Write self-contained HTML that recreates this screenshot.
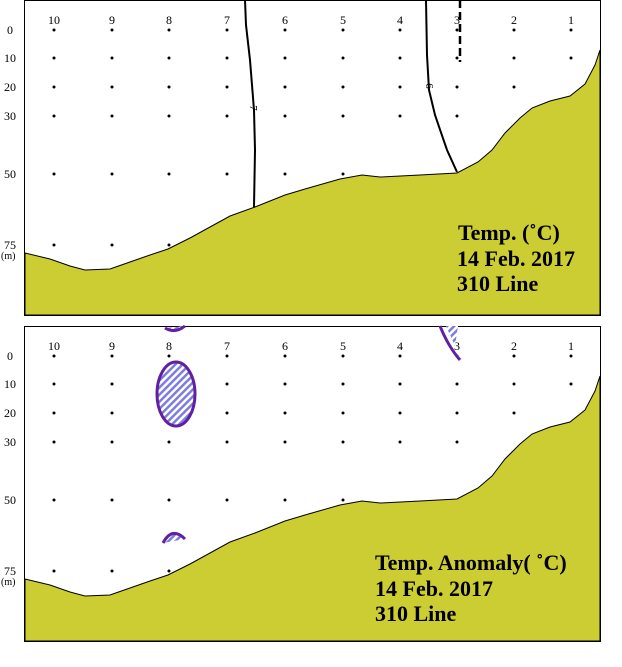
<!DOCTYPE html>
<html><head><meta charset="utf-8"><style>
body{margin:0;background:#fff;width:622px;height:662px;overflow:hidden}
svg text{font-family:"Liberation Serif",serif}
</style></head><body>
<svg width="622" height="662" viewBox="0 0 622 662" xmlns="http://www.w3.org/2000/svg">
<defs>
<pattern id="h" width="5" height="5" patternUnits="userSpaceOnUse" patternTransform="rotate(45)">
<rect width="5" height="5" fill="#fff"/><rect width="2.5" height="5" fill="#7d7de0"/></pattern>
<g id="panel">
<rect x="24.5" y="0.5" width="576" height="315" fill="#fff" stroke="#000"/>
<g font-size="12" text-anchor="middle">
<text x="54" y="24">10</text><text x="112" y="24">9</text><text x="169" y="24">8</text><text x="227" y="24">7</text><text x="285" y="24">6</text><text x="343" y="24">5</text><text x="400" y="24">4</text><text x="457" y="24">3</text><text x="514" y="24">2</text><text x="571" y="24">1</text>
<text x="10" y="34">0</text><text x="10" y="62">10</text><text x="10" y="91">20</text><text x="10" y="120">30</text><text x="10" y="178">50</text><text x="10" y="249">75</text>
</g>
<text x="1" y="259" font-size="10">(m)</text>
<g fill="#000">
<circle cx="54" cy="30" r="1.5"/><circle cx="112" cy="30" r="1.5"/><circle cx="169" cy="30" r="1.5"/><circle cx="227" cy="30" r="1.5"/><circle cx="285" cy="30" r="1.5"/><circle cx="343" cy="30" r="1.5"/><circle cx="400" cy="30" r="1.5"/><circle cx="457" cy="30" r="1.5"/><circle cx="514" cy="30" r="1.5"/><circle cx="571" cy="30" r="1.5"/>
<circle cx="54" cy="58" r="1.5"/><circle cx="112" cy="58" r="1.5"/><circle cx="169" cy="58" r="1.5"/><circle cx="227" cy="58" r="1.5"/><circle cx="285" cy="58" r="1.5"/><circle cx="343" cy="58" r="1.5"/><circle cx="400" cy="58" r="1.5"/><circle cx="457" cy="58" r="1.5"/><circle cx="514" cy="58" r="1.5"/><circle cx="571" cy="58" r="1.5"/>
<circle cx="54" cy="87" r="1.5"/><circle cx="112" cy="87" r="1.5"/><circle cx="169" cy="87" r="1.5"/><circle cx="227" cy="87" r="1.5"/><circle cx="285" cy="87" r="1.5"/><circle cx="343" cy="87" r="1.5"/><circle cx="400" cy="87" r="1.5"/><circle cx="457" cy="87" r="1.5"/><circle cx="514" cy="87" r="1.5"/>
<circle cx="54" cy="116" r="1.5"/><circle cx="112" cy="116" r="1.5"/><circle cx="169" cy="116" r="1.5"/><circle cx="227" cy="116" r="1.5"/><circle cx="285" cy="116" r="1.5"/><circle cx="343" cy="116" r="1.5"/><circle cx="400" cy="116" r="1.5"/><circle cx="457" cy="116" r="1.5"/>
<circle cx="54" cy="174" r="1.5"/><circle cx="112" cy="174" r="1.5"/><circle cx="169" cy="174" r="1.5"/><circle cx="227" cy="174" r="1.5"/><circle cx="285" cy="174" r="1.5"/><circle cx="343" cy="174" r="1.5"/>
<circle cx="54" cy="245" r="1.5"/><circle cx="112" cy="245" r="1.5"/><circle cx="169" cy="245" r="1.5"/>
</g>
<path d="M25,253 L50,259 L70,266 L85,270 L110,269 L130,262 L150,255 L168,249 L190,238 L230,216 L255,207 L285,195 L305,189 L340,179 L362,175 L380,177 L420,175 L457,173 L478,162 L492,150 L505,133 L520,118 L532,108 L550,101 L570,96 L585,84 L595,65 L600,50 L600,315 L25,315 Z" fill="#cccc33" stroke="#000" stroke-width="1"/>
</g>
</defs>
<use href="#panel"/>
<path d="M245,0 L246,25 L250,60 L254,110 L255,150 L254,207" fill="none" stroke="#000" stroke-width="2"/>
<text x="254" y="112" font-size="11" transform="rotate(90 254 108)" text-anchor="middle">7</text>
<path d="M426,0 L427,55 L429,90 L435,115 L447,150 L457,172" fill="none" stroke="#000" stroke-width="2"/>
<text x="430" y="90" font-size="11" transform="rotate(90 430 86)" text-anchor="middle">6</text>
<path d="M460,0 L460,62" fill="none" stroke="#000" stroke-width="2.5" stroke-dasharray="8,4"/>
<text x="458" y="240" font-size="22" font-weight="bold">Temp. (˚C)</text>
<text x="457" y="266" font-size="22" font-weight="bold">14 Feb. 2017</text>
<text x="457" y="291" font-size="22" font-weight="bold">310 Line</text>
<g transform="translate(0,326)">
<use href="#panel"/>
<ellipse cx="176" cy="68" rx="19" ry="32" fill="url(#h)" stroke="#6020a0" stroke-width="3"/>
<path d="M165,2 Q175,8 185,0" fill="url(#h)" stroke="#6020a0" stroke-width="3"/>
<path d="M440,0 Q448,20 460,34" fill="none" stroke="#6020a0" stroke-width="3"/>
<path d="M446,0 L458,0 L455,20 Z" fill="url(#h)"/>
<path d="M163,217 Q172,200 185,213" fill="url(#h)" stroke="#6020a0" stroke-width="3"/>
</g>
<text x="375" y="570" font-size="22" font-weight="bold">Temp. Anomaly( ˚C)</text>
<text x="375" y="596" font-size="22" font-weight="bold">14 Feb. 2017</text>
<text x="375" y="621" font-size="22" font-weight="bold">310 Line</text>
</svg>
</body></html>
